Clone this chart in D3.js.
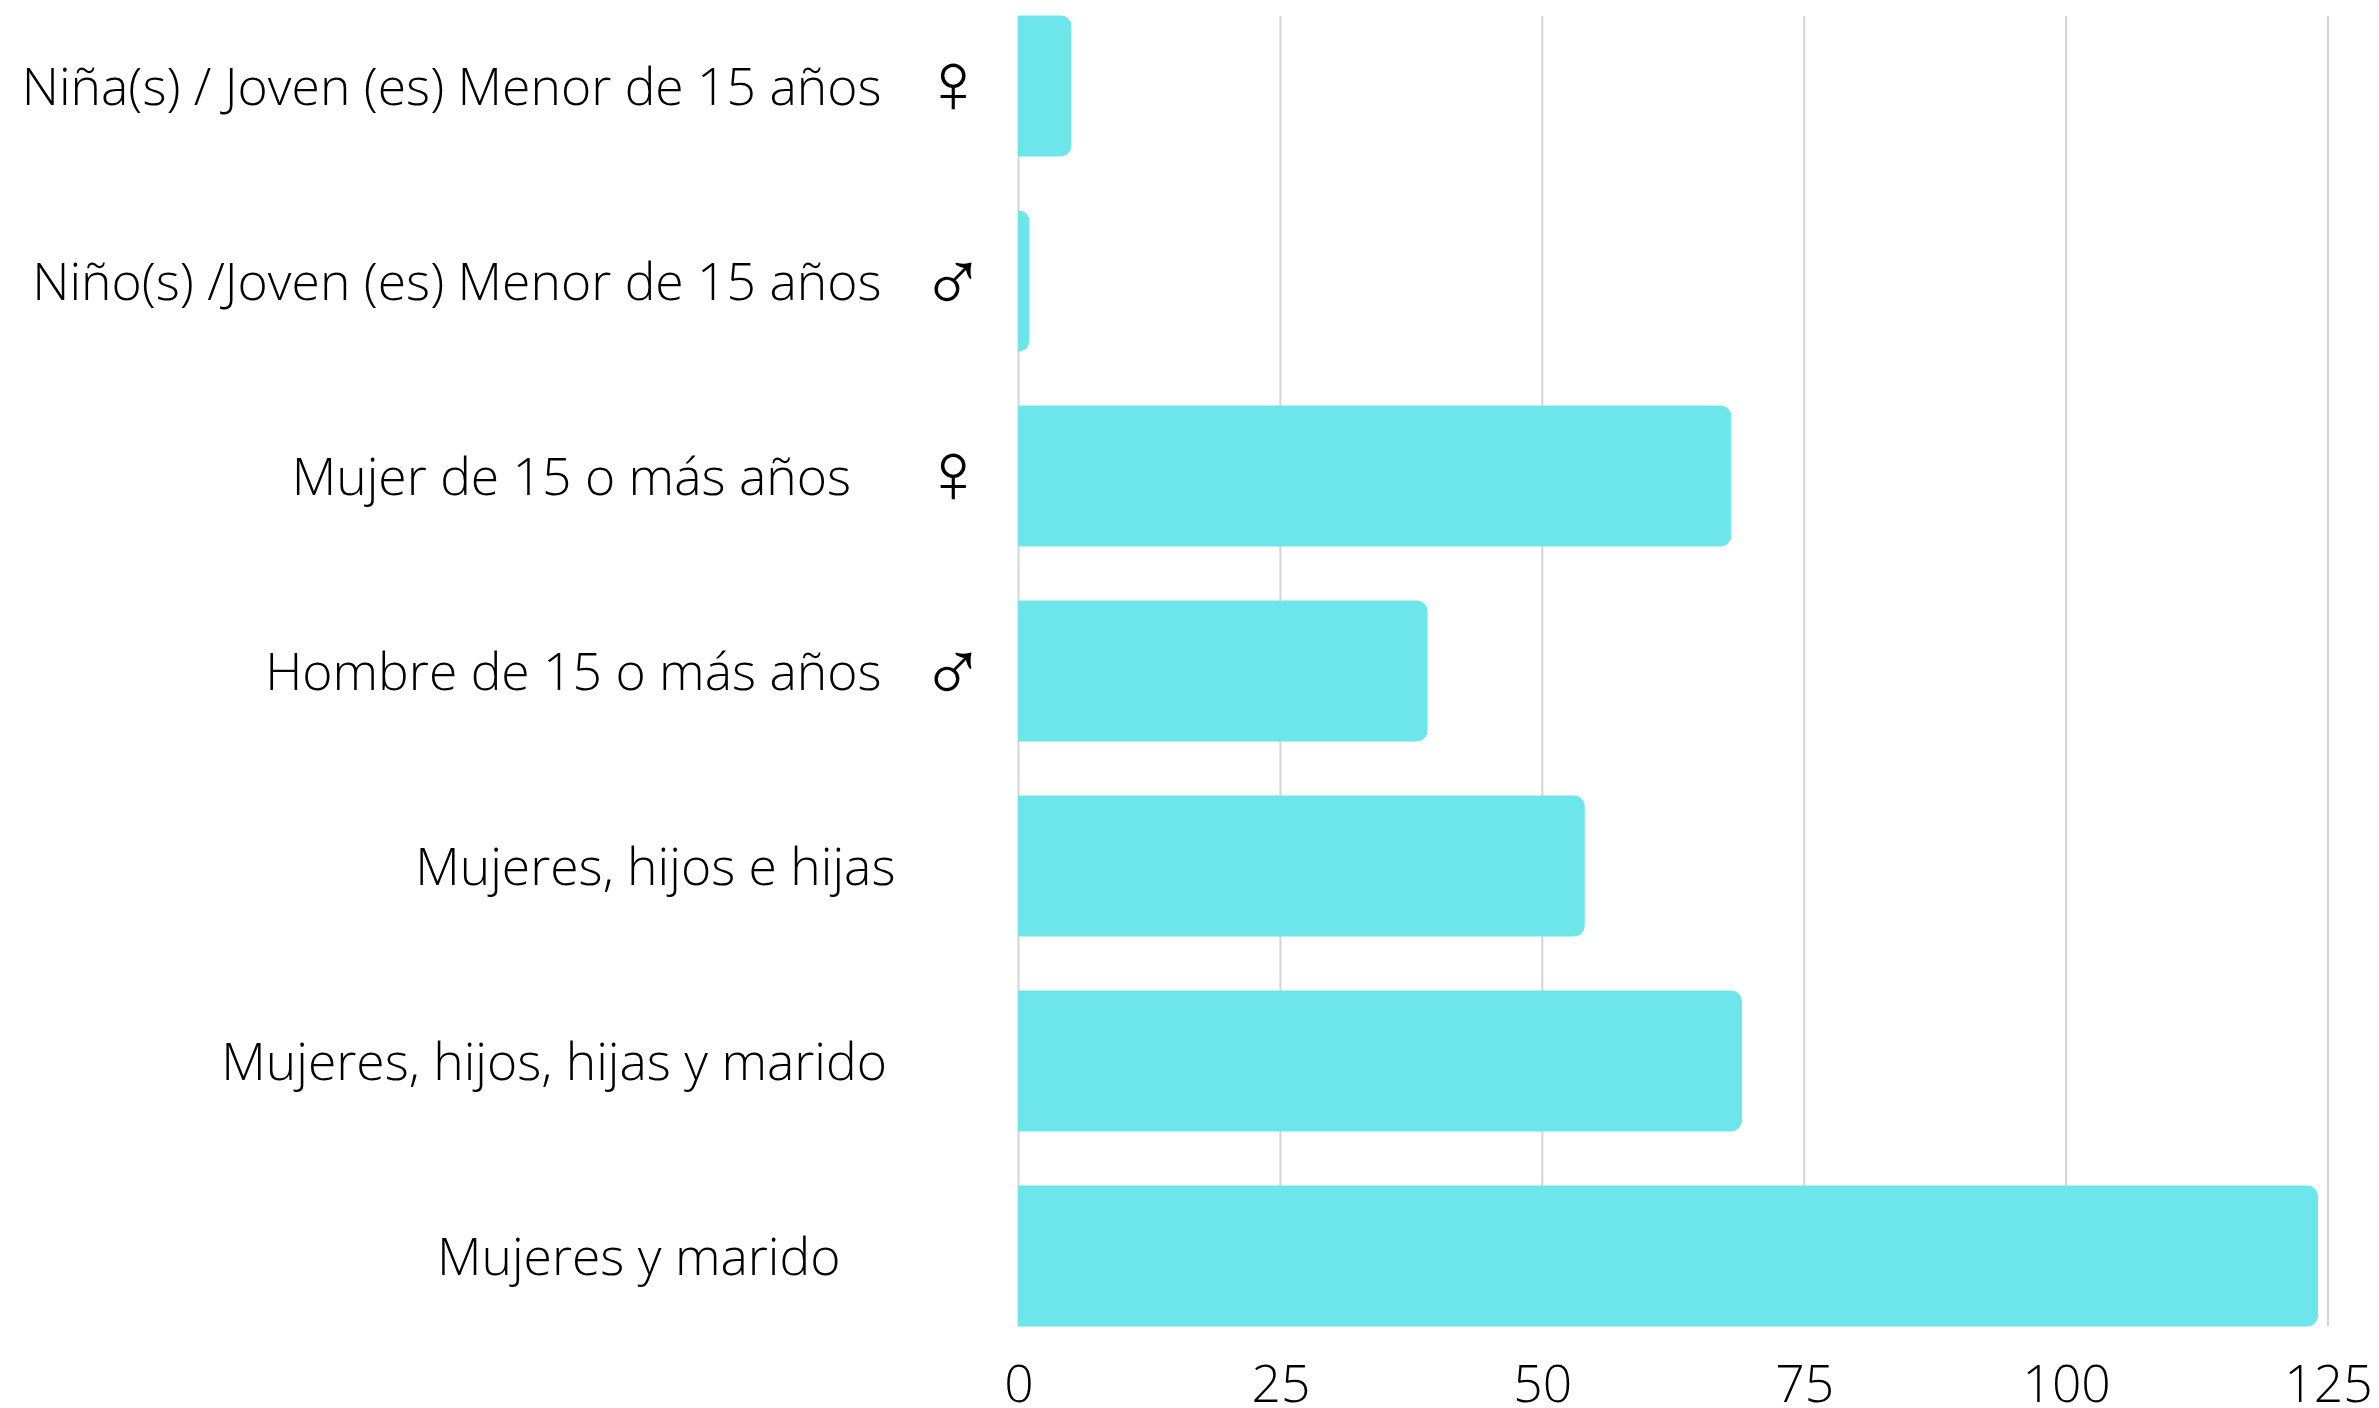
<!DOCTYPE html>
<html><head><meta charset="utf-8">
<script src="https://cdnjs.cloudflare.com/ajax/libs/d3/7.9.0/d3.min.js"></script>
<style>
html,body{margin:0;padding:0;background:#fff;overflow:hidden}
svg{display:block}
text{font-family:"Open Sans",sans-serif;font-weight:300;fill:#000}
</style></head><body>
<svg id="c" width="2379" height="1408"></svg>
<script>
const categories=["Niña(s) / Joven (es) Menor de 15 años","Niño(s) /Joven (es) Menor de 15 años","Mujer de 15 o más años","Hombre de 15 o más años","Mujeres, hijos e hijas","Mujeres, hijos, hijas y marido","Mujeres y marido"];
const values=[5,1,68,39,54,69,124];
const symbols=["♀","♂","♀","♂","","",""];
const xTicks=[0,25,50,75,100,125];
const labelRightEdge=[881.5,881.5,851,881.5,895.5,887,840.5];

const svg=d3.select("#c");
const x=d3.scaleLinear().domain([0,125]).range([1018.5,2328]);
const y=d3.scaleBand().domain(categories).range([16,1326]).paddingInner(55/195).paddingOuter(0);

svg.append("g").selectAll("line").data(xTicks).join("line")
 .attr("x1",d=>x(d)).attr("x2",d=>x(d)).attr("y1",16).attr("y2",1326)
 .attr("stroke","#d4d4d4").attr("stroke-width",2);

const xAxis=d3.axisBottom(x).tickValues(xTicks).tickSize(0).tickPadding(0);
const gx=svg.append("g").attr("transform","translate(0,1326)").call(xAxis);
gx.select(".domain").remove();
gx.selectAll("text").attr("y",75.5).attr("dy",0).style("font-size","51.6px").style("font-family",'"Open Sans",sans-serif').style("font-weight",300).attr("fill","#000");

const r=10;
svg.append("g").selectAll("path").data(categories).join("path")
 .attr("fill","#6ce6ea").attr("stroke","#6ce6ea").attr("stroke-width",1)
 .attr("d",(c,i)=>{
   const x0=x(0),x1=x(values[i]),t=y(c),b=t+y.bandwidth();
   const p=d3.path();
   p.moveTo(x0,t);p.lineTo(x1-r,t);p.arcTo(x1,t,x1,t+r,r);p.lineTo(x1,b-r);p.arcTo(x1,b,x1-r,b,r);p.lineTo(x0,b);p.closePath();
   return p.toString();
 });

svg.append("g").selectAll("text").data(categories).join("text")
 .attr("x",(c,i)=>labelRightEdge[i])
 .attr("y",c=>y(c)+y.bandwidth()/2+19)
 .attr("text-anchor","end").style("font-size","51.6px").text(c=>c);

svg.append("g").selectAll("text").data(categories).join("text")
 .attr("x",953)
 .attr("y",(c,i)=>y(c)+y.bandwidth()/2+(symbols[i]==="♂"?31:27))
 .attr("text-anchor","middle").style("font-size","88px").style("font-family","Liberation Sans").style("font-weight",400)
 .text((c,i)=>symbols[i]);
</script></body></html>
